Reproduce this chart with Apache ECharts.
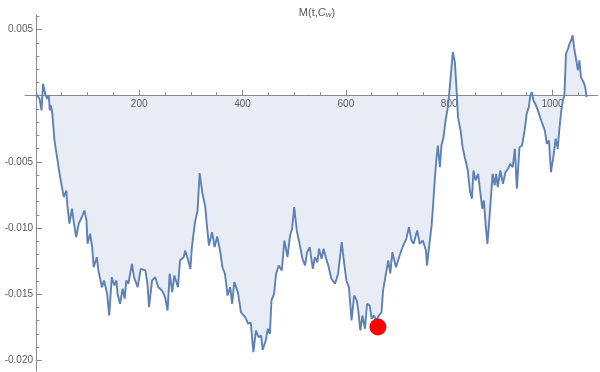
<!DOCTYPE html>
<html><head><meta charset="utf-8">
<script src="https://cdn.jsdelivr.net/npm/echarts@6/dist/echarts.min.js"></script>
<style>html,body{margin:0;padding:0;background:#fff}#c{width:600px;height:372px}</style>
</head><body><div id="c"></div>
<script>
const tValues = [
  1, 3, 7, 11, 14, 18, 22, 25, 27, 29,
  32, 36, 41, 47, 54, 59, 61, 65, 70, 73,
  78, 83, 89, 94, 98, 100, 105, 109, 112, 118,
  121, 128, 132, 138, 142, 147, 152, 156, 158, 163,
  168, 172, 175, 179, 186, 190, 197, 203, 212, 216,
  219, 225, 231, 237, 244, 247, 250, 255, 259, 264,
  268, 275, 279, 286, 289, 294, 299, 302, 308, 313,
  317, 322, 328, 331, 335, 341, 346, 351, 357, 361,
  366, 371, 376, 380, 384, 391, 397, 405, 411, 416,
  421, 426, 431, 436, 439, 445, 449, 453, 456, 461,
  465, 470, 476, 481, 487, 492, 496, 500, 505, 511,
  516, 521, 525, 530, 536, 540, 545, 548, 553, 557,
  561, 566, 572, 579, 585, 592, 596, 601, 606, 611,
  616, 621, 624, 628, 632, 637, 641, 646, 650, 654,
  659, 664, 669, 672, 677, 682, 686, 690, 697, 704,
  711, 717, 722, 727, 731, 738, 743, 749, 755, 757,
  761, 766, 769, 772, 775, 778, 782, 785, 789, 793,
  798, 800, 804, 807, 811, 814, 817, 822, 826, 830,
  833, 836, 840, 844, 847, 851, 856, 859, 864, 867,
  871, 874, 878, 884, 888, 891, 894, 899, 904, 909,
  914, 918, 923, 927, 931, 936, 941, 946, 950, 954,
  957, 960, 963, 968, 973, 978, 985, 989, 993, 997,
  1002, 1006, 1010, 1013, 1017, 1020, 1023, 1026, 1030, 1033,
  1036, 1039, 1042, 1046, 1049, 1052, 1055, 1060, 1063, 1066
];
const mValues = [
  0.0001, 0.00015, -0.00023, -0.00111, 0.00091, 0.00015, -0.00023, 0.00002, -0.00111, -0.00073,
  -0.00136, -0.00338, -0.00464, -0.00615, -0.00766, -0.00716, -0.00829, -0.00967, -0.00854, -0.00943,
  -0.01069, -0.00967, -0.00918, -0.00867, -0.00943, -0.01119, -0.01043, -0.01144, -0.01296, -0.0122,
  -0.0132, -0.01447, -0.01396, -0.01497, -0.01661, -0.01371, -0.01434, -0.01396, -0.01497, -0.01572,
  -0.01459, -0.01534, -0.01396, -0.01421, -0.0127, -0.01371, -0.01447, -0.01308, -0.0132, -0.01421,
  -0.01598, -0.01396, -0.01371, -0.01447, -0.01472, -0.01494, -0.01522, -0.01623, -0.01345, -0.01484,
  -0.01358, -0.01447, -0.01245, -0.0122, -0.01169, -0.01232, -0.01308, -0.01144, -0.00955, -0.00867,
  -0.00585, -0.00729, -0.00842, -0.0098, -0.01132, -0.01031, -0.01144, -0.01064, -0.01182, -0.01296,
  -0.01345, -0.0151, -0.01447, -0.01572, -0.01409, -0.01484, -0.01636, -0.01673, -0.01723, -0.01714,
  -0.01938, -0.01774, -0.01825, -0.01812, -0.0192, -0.0185, -0.01761, -0.01799, -0.01547, -0.01497,
  -0.01345, -0.01283, -0.0132, -0.01094, -0.0122, -0.01056, -0.01005, -0.00842, -0.01018, -0.01132,
  -0.01232, -0.01283, -0.01182, -0.01144, -0.01308, -0.0122, -0.01258, -0.01156, -0.01232, -0.01156,
  -0.0122, -0.01283, -0.01383, -0.01421, -0.01345, -0.01107, -0.01245, -0.01396, -0.01447, -0.01698,
  -0.0151, -0.01547, -0.01623, -0.01774, -0.01661, -0.01761, -0.01572, -0.01585, -0.01686, -0.01661,
  -0.01698, -0.01661, -0.01636, -0.01472, -0.01358, -0.01245, -0.01343, -0.01182, -0.01296, -0.01207,
  -0.01132, -0.01081, -0.00993, -0.01094, -0.01119, -0.01018, -0.01119, -0.01094, -0.01169, -0.01283,
  -0.01144, -0.0098, -0.00816, -0.0064, -0.00489, -0.00376, -0.0054, -0.00376, -0.00313, -0.00187,
  -0.00073, 0.00015, 0.00191, 0.0033, 0.00252, 0.00065, -0.00162, -0.00262, -0.00389, -0.00464,
  -0.00512, -0.00565, -0.00716, -0.00779, -0.00565, -0.0064, -0.0059, -0.00691, -0.00854, -0.00791,
  -0.00993, -0.01119, -0.00918, -0.0059, -0.00678, -0.0059, -0.00691, -0.00565, -0.00665, -0.00577,
  -0.00552, -0.00514, -0.0054, -0.00401, -0.00703, -0.00389, -0.00376, -0.00262, -0.00136, -0.00088,
  0.00002, 0.00027, -0.00036, -0.00073, -0.00126, -0.00187, -0.00262, -0.00363, -0.00338, -0.00577,
  -0.00451, -0.00325, -0.00401, -0.00262, -0.00111, -0.00036, 0.00002, 0.00317, 0.00355, 0.00393,
  0.00418, 0.00456, 0.00355, 0.00267, 0.00191, 0.00267, 0.00141, 0.00103, 0.0007, -0.00011
];
const markT = [662];
const markM = [-0.01748];
const xMajorTicks = [200, 400, 600, 800, 1000];
const xMinorTicks = [50, 100, 150, 250, 300, 350, 450, 500, 550, 650, 700, 750, 850, 900, 950, 1050];
const yMajorTicks = [-0.020, -0.015, -0.010, -0.005, 0.005];
const yMinorTicks = [-0.019, -0.018, -0.017, -0.016, -0.014, -0.013, -0.012, -0.011, -0.009, -0.008,
  -0.007, -0.006, -0.004, -0.003, -0.002, -0.001, 0.001, 0.002, 0.003, 0.004, 0.006];

const AX = '#8a8a8a', LBL = '#5a5a5a', FONT = 'Liberation Sans, Arial, sans-serif';
const XMIN = -21, XMAX = 1088, YMIN = -0.0208, YMAX = 0.0061;

const chart = echarts.init(document.getElementById('c'), null, {renderer: 'canvas'});
chart.setOption({
  animation: false,
  backgroundColor: '#fff',
  title: {
    text: 'M(t,{i|C}{s|w})',
    left: 312, top: 1, textAlign: 'center',
    textStyle: {
      fontSize: 11, color: '#555', fontWeight: 'normal', fontFamily: FONT,
      rich: {
        i: {fontStyle: 'italic', fontSize: 11, color: '#555', fontFamily: FONT},
        s: {fontStyle: 'italic', fontSize: 8, color: '#555', fontFamily: FONT, verticalAlign: 'bottom', padding: [5, 0, 0, 0]}
      }
    }
  },
  grid: {left: 25, right: 2, top: 15, bottom: 1, containLabel: false, outerBoundsMode: 'none'},
  xAxis: [
    {
      type: 'value', min: XMIN, max: XMAX, position: 'bottom',
      axisLine: {show: true, onZero: true, onZeroAxisIndex: 0, lineStyle: {color: AX, width: 1}},
      axisTick: {show: true, inside: true, length: 6, customValues: xMajorTicks, lineStyle: {color: AX}},
      axisLabel: {show: true, customValues: xMajorTicks, color: LBL, fontSize: 10, fontFamily: FONT, margin: -272,
        formatter: v => String(v)},
      splitLine: {show: false}
    },
    {
      type: 'value', min: XMIN, max: XMAX, position: 'bottom',
      axisLine: {show: false, onZero: true, onZeroAxisIndex: 0},
      axisTick: {show: true, inside: true, length: 3.5, customValues: xMinorTicks, lineStyle: {color: AX}},
      axisLabel: {show: false},
      splitLine: {show: false}
    }
  ],
  yAxis: [
    {
      type: 'value', min: YMIN, max: YMAX, position: 'left',
      axisLine: {show: true, onZero: true, onZeroAxisIndex: 0, lineStyle: {color: AX, width: 1}},
      axisTick: {show: true, inside: true, length: 6, customValues: yMajorTicks, lineStyle: {color: AX}},
      axisLabel: {show: true, customValues: yMajorTicks, color: LBL, fontSize: 10, fontFamily: FONT, margin: -8,
        formatter: v => v.toFixed(3)},
      splitLine: {show: false}
    },
    {
      type: 'value', min: YMIN, max: YMAX, position: 'left',
      axisLine: {show: false, onZero: true, onZeroAxisIndex: 0},
      axisTick: {show: true, inside: true, length: 3.5, customValues: yMinorTicks, lineStyle: {color: AX}},
      axisLabel: {show: false},
      splitLine: {show: false}
    }
  ],
  series: [
    {
      type: 'line', xAxisIndex: 0, yAxisIndex: 0,
      data: tValues.map((t, i) => [t, mValues[i]]),
      showSymbol: false, symbol: 'none', smooth: false,
      lineStyle: {color: '#5e81b5', width: 1.9},
      areaStyle: {color: 'rgba(94,129,181,0.2)', origin: 'auto'},
      z: 2
    },
    {
      type: 'scatter', xAxisIndex: 0, yAxisIndex: 0,
      data: markT.map((t, i) => [t, markM[i]]),
      symbolSize: 17,
      itemStyle: {color: '#ff0000', opacity: 1},
      z: 5
    }
  ]
});
</script>
</body></html>
